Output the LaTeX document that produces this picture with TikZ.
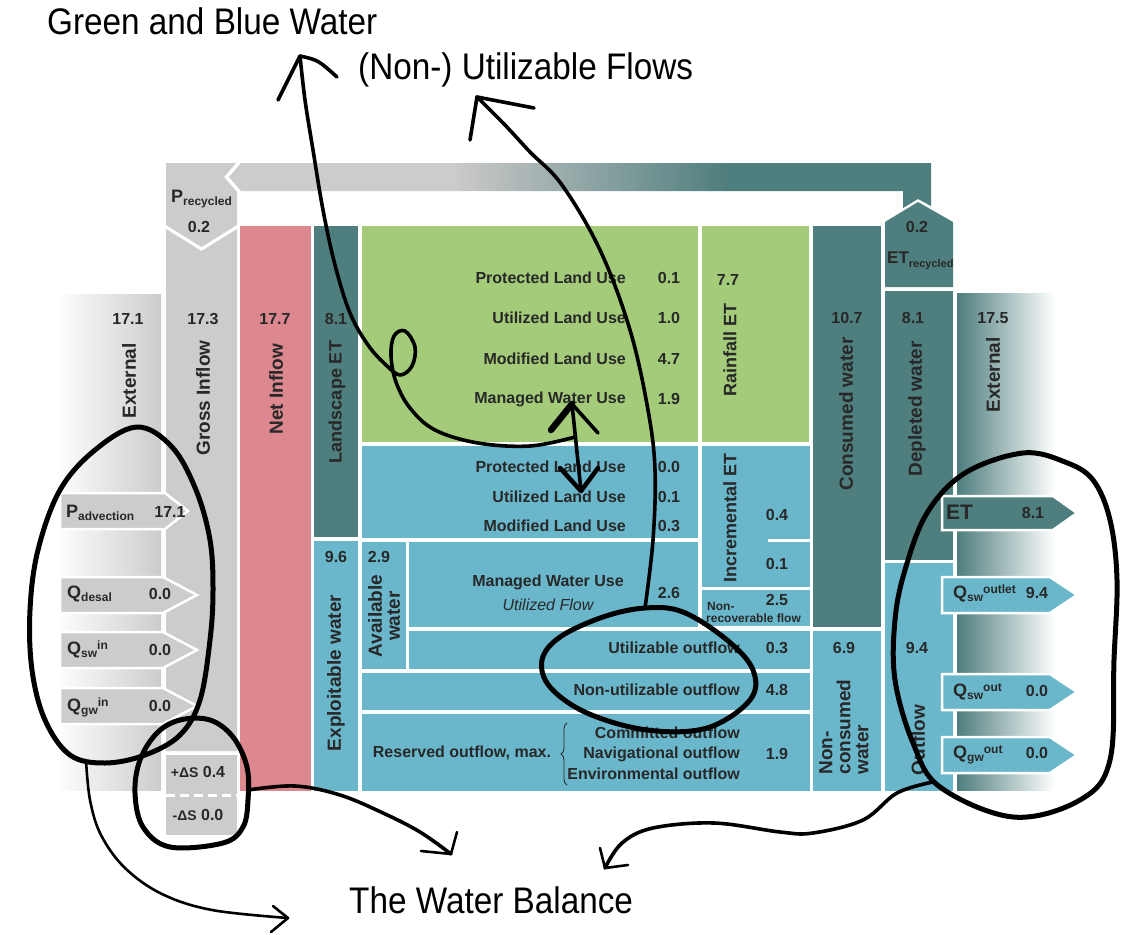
\documentclass[tikz,border=0pt]{standalone}
\usepackage{fontspec}
\setmainfont{Liberation Sans}
\newfontfamily\ttlfont[FakeStretch=0.9]{Liberation Sans}
\usetikzlibrary{decorations.pathreplacing}
\definecolor{gry}{RGB}{206,203,203}
\definecolor{tealc}{RGB}{78,126,125}
\definecolor{pinkc}{RGB}{220,136,142}
\definecolor{greenc}{RGB}{163,203,121}
\definecolor{bluec}{RGB}{106,183,204}
\definecolor{txtc}{RGB}{40,40,40}
\newcommand{\fs}[1]{\fontsize{#1}{#1}\selectfont}
\newcommand{\sbx}[1]{\raisebox{-3.5pt}{\fs{12}#1}}
\newcommand{\spx}[1]{\raisebox{5pt}{\fs{12}#1}}
\begin{document}
\begin{tikzpicture}[x=1pt,y=-1pt,
  lbl/.style={font=\fs{16}\bfseries, text=txtc, inner sep=0pt},
  rl/.style={lbl, anchor=east},
  vl/.style={font=\fontsize{19}{18}\selectfont\bfseries, text=txtc, inner sep=0pt, rotate=90},
  sm/.style={font=\fs{12}\bfseries, text=txtc, inner sep=0pt, anchor=west},
  sym/.style={font=\fs{18}\bfseries, text=txtc, inner sep=0pt, anchor=base west},
  ttl/.style={font=\ttlfont\fs{37}, text=black, inner sep=0pt, anchor=base west},
  hand/.style={draw=black, line width=3.6pt, line cap=round, line join=round},
  thin hand/.style={hand, line width=2.6pt},
  fat hand/.style={hand, line width=5pt},
  arrbox/.style={draw=white, line width=2.5pt, line join=miter},
]
\useasboundingbox (0,0) rectangle (1124,934);
\fill[white] (0,0) rectangle (1124,934);

% external gradients
\shade[left color=white, right color=gry] (55,294) rectangle (161,790);
\shade[left color=tealc, right color=white] (957,293) rectangle (1055,790);

% recycle band
\begin{scope}
\clip (229,177) -- (241,163) -- (931,163) -- (931,206) -- (918,199) -- (903,208) -- (903,191) -- (241,191) -- cycle;
\fill[gry] (220,160) rectangle (451,195);
\shade[left color=gry, right color=tealc] (450,160) rectangle (728,195);
\fill[tealc] (727,160) rectangle (935,215);
\end{scope}

% gross inflow column
\fill[gry] (166,163) -- (236,163) -- (224,177) -- (236,191) -- (237,191) -- (237,225) -- (201.5,247) -- (166,225) -- cycle;
\fill[gry] (166,229) -- (201.5,251) -- (237,229) -- (237,751) -- (166,751) -- cycle;
\fill[gry] (166,755) rectangle (237,835);
\draw[white, line width=3pt, dash pattern=on 9pt off 5pt] (166,795) -- (237,795);

% main columns
\fill[pinkc] (240,226) rectangle (311,791);
\fill[tealc] (314,226) rectangle (358,537);
\fill[greenc] (362,226) rectangle (698,442);
\fill[greenc] (702,226) rectangle (809,442);
\fill[tealc] (813,226) rectangle (881,627);
\fill[tealc] (885,222) -- (918,202) -- (953,222) -- (953,287) -- (885,287) -- cycle;
\fill[tealc] (885,291) rectangle (953,560);
\fill[bluec] (885,563) rectangle (953,791);

% blue boxes
\fill[bluec] (362,446) rectangle (698,538);
\fill[bluec] (702,446) rectangle (810,587);
\draw[white, line width=3pt] (768,540) -- (811,540);
\fill[bluec] (702,590) rectangle (810,626);
\fill[bluec] (314,541) rectangle (358,791);
\fill[bluec] (362,542) rectangle (406,669);
\fill[bluec] (409,542) rectangle (698,627);
\fill[bluec] (409,631) rectangle (810,669);
\fill[bluec] (362,673) rectangle (810,710);
\fill[bluec] (362,714) rectangle (810,791);
\fill[bluec] (813,631) rectangle (881,791);

% left arrows
\filldraw[fill=gry, arrbox] (60,493) -- (165,493) -- (188,511) -- (165,529) -- (60,529) -- cycle;
\filldraw[fill=gry, arrbox] (60,577) -- (163,577) -- (197,595) -- (163,613) -- (60,613) -- cycle;
\filldraw[fill=gry, arrbox] (60,632) -- (163,632) -- (197,650) -- (163,668) -- (60,668) -- cycle;
\filldraw[fill=gry, arrbox] (60,688) -- (163,688) -- (197,706) -- (163,724) -- (60,724) -- cycle;

% right arrows
\filldraw[fill=tealc, arrbox] (942,496) -- (1053,496) -- (1077,513) -- (1053,530) -- (942,530) -- cycle;
\filldraw[fill=bluec, arrbox] (942,577) -- (1050,577) -- (1077,595) -- (1050,613) -- (942,613) -- cycle;
\filldraw[fill=bluec, arrbox] (942,674) -- (1050,674) -- (1077,692) -- (1050,710) -- (942,710) -- cycle;
\filldraw[fill=bluec, arrbox] (942,737) -- (1050,737) -- (1077,755) -- (1050,773) -- (942,773) -- cycle;

% titles
\node[ttl] (tGBW) at (47,35) {Green and Blue Water};
\node[ttl] (tNUF) at (358,80) {(Non-) Utilizable Flows};
\node[ttl] (tWB) at (349,913) {The Water Balance};

% column tops
\node[lbl] (vExtL) at (128,319) {17.1};
\node[lbl] (vGross) at (203,319) {17.3};
\node[lbl] (vNet) at (275,319) {17.7};
\node[lbl] (vLand) at (336,319) {8.1};
\node[lbl] (vCons) at (847,318) {10.7};
\node[lbl] (vDepl) at (913,318) {8.1};
\node[lbl] (vExtR) at (993,318) {17.5};

% vertical labels
\node[vl] (lExtL) at (129,381) {External};
\node[vl] (lGross) at (203,398) {Gross Inflow};
\node[vl] (lNet) at (276,389) {Net Inflow};
\node[vl, font=\fs{18}\bfseries] (lLand) at (337,402) {Landscape ET};
\node[vl, font=\fs{18}\bfseries] (lRain) at (730,350) {Rainfall ET};
\node[vl] (lCons) at (846,414) {Consumed water};
\node[vl] (lDepl) at (917,409) {Depleted water};
\node[vl] (lExtR) at (993,375) {External};
\node[vl] (lExpl) at (336,673) {Exploitable water};
\node[vl, align=center] (lAvail) at (384,616) {Available\\water};
\node[vl, font=\fs{18}\bfseries] (lIncr) at (730,518) {Incremental ET};
\node[vl, align=left] (lNonc) at (844,727) {Non-\\consumed\\water};
\node[vl] (lOut) at (918,740) {Outflow};

% recycled
\node[sym] (pRec) at (171,202) {P\sbx{recycled}};
\node[lbl] (pRecV) at (199,227) {0.2};
\node[sym, font=\fs{17}\bfseries] (etRec) at (887,263) {ET\raisebox{-4pt}{\fs{11}recycled}};
\node[lbl] (etRecV) at (917,227) {0.2};

% green block
\node[lbl] (rainV) at (728,280) {7.7};
\node[rl] (g1) at (626,278) {Protected Land Use};
\node[rl] (g2) at (626,318) {Utilized Land Use};
\node[rl] (g3) at (626,359) {Modified Land Use};
\node[rl] (g4) at (626,399) {Managed Water Use};
\node[lbl] (g1v) at (669,278) {0.1};
\node[lbl] (g2v) at (669,318) {1.0};
\node[lbl] (g3v) at (669,359) {4.7};
\node[lbl] (g4v) at (669,399) {1.9};

% blue block
\node[rl] (b1) at (626,467) {Protected Land Use};
\node[rl] (b2) at (626,497) {Utilized Land Use};
\node[rl] (b3) at (626,526) {Modified Land Use};
\node[lbl] (b1v) at (669,467) {0.0};
\node[lbl] (b2v) at (669,497) {0.1};
\node[lbl] (b3v) at (669,526) {0.3};
\node[lbl] (i1) at (777,515) {0.4};
\node[lbl] (i2) at (777,564) {0.1};
\node[lbl] (nr) at (777,600) {2.5};
\node[sm] (nrA) at (707,606) {Non-};
\node[sm] (nrB) at (706,618) {recoverable flow};
\node[lbl] (vExpl) at (336,557) {9.6};
\node[lbl] (vAvail) at (379,557) {2.9};
\node[lbl] (mwu) at (548,582) {Managed Water Use};
\node[lbl, font=\fs{16}\itshape] (uf) at (548,605) {Utilized Flow};
\node[lbl] (mwuV) at (669,593) {2.6};
\node[rl] (uo) at (740,648) {Utilizable outflow};
\node[lbl] (uoV) at (777,648) {0.3};
\node[rl] (nuo) at (740,690) {Non-utilizable outflow};
\node[lbl] (nuoV) at (777,690) {4.8};
\node[lbl] (res) at (462,753) {Reserved outflow, max.};
\draw[txtc, line width=0.8pt, decorate, decoration={brace, amplitude=6pt}] (567,785) -- (567,723);
\node[rl] (ro1) at (740,733) {Committed outflow};
\node[rl] (ro2) at (740,754) {Navigational outflow};
\node[rl] (ro3) at (740,774) {Environmental outflow};
\node[lbl] (roV) at (777,754) {1.9};
\node[lbl] (vNonc) at (844,648) {6.9};
\node[lbl] (vOut) at (917,648) {9.4};

% left arrow texts
\node[sym] (padv) at (66,517) {P\sbx{advection}};
\node[lbl] (padvV) at (170,512) {17.1};
\node[sym] (qdes) at (67,598) {Q\sbx{desal}};
\node[lbl] (qdesV) at (160,594) {0.0};
\node[sym] (qswi) at (67,654) {Q\sbx{sw}\spx{in}};
\node[lbl] (qswiV) at (160,650) {0.0};
\node[sym] (qgwi) at (67,711) {Q\sbx{gw}\spx{in}};
\node[lbl] (qgwiV) at (160,706) {0.0};
\node[lbl] (dSp) at (198,772) {{\fs{14}+ΔS} 0.4};
\node[lbl] (dSm) at (198,815) {{\fs{14}-ΔS} 0.0};

% right arrow texts
\node[sym, font=\fs{21}\bfseries, anchor=west] (etO) at (946,512) {ET};
\node[lbl] (etOV) at (1033,513) {8.1};
\node[sym] (qswo) at (953,598) {Q\sbx{sw}\spx{outlet}};
\node[lbl] (qswoV) at (1037,593) {9.4};
\node[sym] (qswu) at (953,696) {Q\sbx{sw}\spx{out}};
\node[lbl] (qswuV) at (1037,691) {0.0};
\node[sym] (qgwu) at (953,758) {Q\sbx{gw}\spx{out}};
\node[lbl] (qgwuV) at (1037,753) {0.0};

% ---- hand-drawn annotations ----
\coordinate (gbwTip) at (300,56);
\coordinate (gbwEnd) at (575,437);
\draw[hand] plot[smooth, tension=0.6] coordinates {(gbwTip) (305,100) (313,150) (323,210) (335,265) (350,313) (368,345) (386,365) (400,375) (412,366) (415,347) (405,331) (394,336) (391,356) (396,382) (410,408) (435,430) (478,443) (530,446) (gbwEnd)};
\draw[hand] (278,100) -- (gbwTip) .. controls (318,60) .. (337,77);

\coordinate (nuTip) at (477,97);
\coordinate (nuEnd) at (645,608);
\draw[hand] plot[smooth, tension=0.6] coordinates {(nuTip) (505,125) (530,152) (562,185) (600,250) (630,330) (648,410) (655,470) (653,540) (nuEnd)};
\draw[hand] (470,140) -- (nuTip) -- (534,108);
\draw[fat hand] plot[smooth cycle, tension=0.6] coordinates {(nuEnd) (603,617) (560,637) (542,660) (550,687) (587,713) (647,730) (707,728) (750,700) (753,670) (727,640) (683,612)};

\coordinate (daTop) at (572,404);
\coordinate (daBot) at (581,491);
\draw[hand] (daTop) -- (daBot);
\draw[hand, line width=6.5pt] (551,430) -- (daTop);
\draw[hand] (daTop) -- (598,433);
\draw[hand, line width=4.5pt] (560,468) -- (daBot) -- (598,468);

% left loop
\draw[fat hand] plot[smooth cycle, tension=0.6] coordinates {(137,427) (172,447) (196,490) (210,540) (213,590) (210,640) (200,700) (180,735) (145,755) (105,763) (70,755) (45,720) (32,670) (30,610) (38,550) (60,490) (95,450)};
\coordinate (wbA) at (288,918);
\draw[thin hand] plot[smooth, tension=0.6] coordinates {(86,760) (90,800) (101,835) (125,868) (162,894) (212,910) (wbA)};
\draw[thin hand] (273,906) -- (wbA) -- (271,932);

% delta S loop
\draw[fat hand] plot[smooth cycle, tension=0.6] coordinates {(210,720) (233,737) (247,767) (248,800) (243,827) (223,843) (170,847) (143,827) (135,793) (140,760) (157,733) (180,720)};
\coordinate (wbB) at (451,854);
\draw[hand] plot[smooth, tension=0.6] coordinates {(248,790) (295,786) (340,795) (383,813) (420,832) (wbB)};
\draw[thin hand] (421,851) -- (wbB) -- (457,832);

% right loop
\draw[fat hand] plot[smooth cycle, tension=0.6] coordinates {(1023,453) (1065,462) (1093,480) (1110,520) (1117,580) (1114,660) (1110,760) (1080,800) (1013,817) (940,787) (913,743) (895,680) (895,620) (905,570) (927,513) (965,473)};
\coordinate (wbC) at (605,868);
\draw[hand] plot[smooth, tension=0.6] coordinates {(933,782) (897,793) (863,820) (813,833) (780,832) (714,823) (653,828) (622,843) (wbC)};
\draw[thin hand] (628,865) -- (wbC) -- (600,848);
\end{tikzpicture}
\end{document}
